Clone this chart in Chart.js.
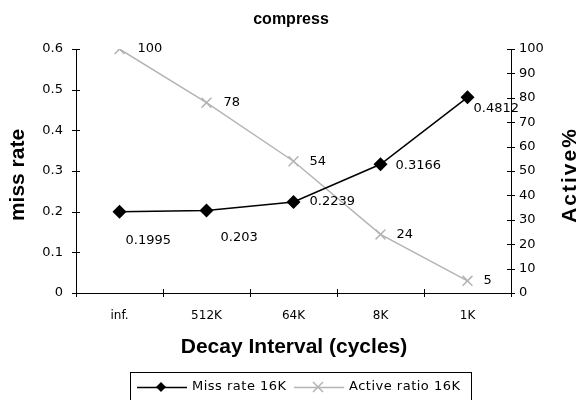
<!DOCTYPE html>
<html>
<head>
<meta charset="utf-8">
<script src="https://cdn.jsdelivr.net/npm/chart.js@4"></script>
<style>
  html, body { margin: 0; padding: 0; background: #fff; }
  #wrap { width: 581px; height: 400px; }
</style>
</head>
<body>
<div id="wrap"><canvas id="cvs" width="581" height="400"></canvas></div>
<script>
const categories = ['inf.', '512K', '64K', '8K', '1K'];
const missRate = [0.1995, 0.203, 0.2239, 0.3166, 0.4812];
const activeRatio = [100, 78, 54, 24, 5];
const missLabels = ['0.1995', '0.203', '0.2239', '0.3166', '0.4812'];
const activeLabels = ['100', '78', '54', '24', '5'];

// label offsets from the marker (dx, dy)
const missOffsets = [[6, 29], [14, 27], [16, 0], [15, 1], [6, 11]];
const activeOffsets = [[18, 0], [17, 0], [16, 0], [16, 0], [16, 0]];

const FONT = 'DejaVu Sans';
const BOLD = 'Liberation Sans';

const decor = {
  id: 'decor',
  afterDraw(chart) {
    const c = chart.ctx, a = chart.chartArea;
    const sy = chart.scales.y, sy2 = chart.scales.y2;
    c.save();
    c.strokeStyle = '#000';
    c.lineWidth = 1;
    // crossing tick marks
    c.beginPath();
    sy.ticks.forEach(t => {
      const y = Math.round(sy.getPixelForValue(t.value)) + 0.5;
      c.moveTo(a.left - 4, y); c.lineTo(a.left + 4, y);
    });
    sy2.ticks.forEach(t => {
      const y = Math.round(sy2.getPixelForValue(t.value)) + 0.5;
      c.moveTo(a.right - 4, y); c.lineTo(a.right + 4, y);
    });
    const step = (a.right - a.left) / categories.length;
    for (let i = 0; i <= categories.length; i++) {
      const x = Math.round(a.left + i * step) + 0.5;
      c.moveTo(x, a.bottom - 4); c.lineTo(x, a.bottom + 4);
    }
    c.stroke();

    // data labels
    c.fillStyle = '#000';
    c.font = '13px "' + FONT + '"';
    c.textAlign = 'left';
    c.textBaseline = 'middle';
    chart.getDatasetMeta(1).data.forEach((p, i) => {
      c.fillText(activeLabels[i], p.x + activeOffsets[i][0], p.y + activeOffsets[i][1]);
    });
    chart.getDatasetMeta(0).data.forEach((p, i) => {
      c.fillText(missLabels[i], p.x + missOffsets[i][0], p.y + missOffsets[i][1]);
    });

    // titles
    c.textAlign = 'center';
    c.font = 'bold 16px "' + BOLD + '"';
    c.fillText('compress', 291, 20);
    c.font = 'bold 21px "' + BOLD + '"';
    c.fillText('Decay Interval (cycles)', 294, 347);
    c.save();
    c.translate(18, 175);
    c.rotate(-Math.PI / 2);
    c.fillText('miss rate', 0, 0);
    c.restore();
    c.save();
    c.translate(570, 175);
    c.rotate(-Math.PI / 2);
    c.letterSpacing = '2px';
    c.fillText('Active%', 0, 0);
    c.restore();

    // legend
    c.strokeStyle = '#000';
    c.lineWidth = 1;
    c.strokeRect(130.5, 372.5, 341, 32);
    const ly = 387;
    const ds = chart.data.datasets;
    c.font = '13px "' + FONT + '"';
    c.letterSpacing = '0.5px';
    c.textAlign = 'left';
    [[137, ds[0]], [294, ds[1]]].forEach(([x0, d]) => {
      c.strokeStyle = d.borderColor;
      c.lineWidth = 1.5;
      c.beginPath(); c.moveTo(x0, ly + 0.5); c.lineTo(x0 + 50, ly + 0.5); c.stroke();
      const mx = x0 + 24;
      if (d.pointStyle === 'rectRot') {
        c.fillStyle = d.pointBackgroundColor;
        c.beginPath();
        c.moveTo(mx, ly - 5); c.lineTo(mx + 5, ly); c.lineTo(mx, ly + 5); c.lineTo(mx - 5, ly);
        c.closePath(); c.fill();
      } else {
        c.beginPath();
        c.moveTo(mx - 5, ly - 5); c.lineTo(mx + 5, ly + 5);
        c.moveTo(mx + 5, ly - 5); c.lineTo(mx - 5, ly + 5);
        c.stroke();
      }
      c.fillStyle = '#000';
      c.fillText(d.label, x0 + 55, ly);
    });
    c.restore();
  }
};

new Chart(document.getElementById('cvs'), {
  type: 'line',
  data: {
    labels: categories,
    datasets: [
      {
        label: 'Miss rate 16K',
        data: missRate,
        yAxisID: 'y',
        borderColor: '#000',
        backgroundColor: '#000',
        borderWidth: 1.5,
        pointStyle: 'rectRot',
        pointRadius: 7,
        pointBackgroundColor: '#000',
        pointBorderColor: '#000',
        pointBorderWidth: 0,
        tension: 0,
        order: 1
      },
      {
        label: 'Active ratio 16K',
        data: activeRatio,
        yAxisID: 'y2',
        borderColor: '#b4b4b4',
        backgroundColor: '#b4b4b4',
        borderWidth: 1.5,
        pointStyle: 'crossRot',
        pointRadius: 7,
        pointBorderColor: '#b4b4b4',
        pointBorderWidth: 1.5,
        tension: 0,
        order: 2
      }
    ]
  },
  options: {
    responsive: false,
    animation: false,
    layout: { padding: { top: 49, left: 0, right: 0, bottom: 0 } },
    plugins: { legend: { display: false }, title: { display: false }, tooltip: { enabled: false } },
    scales: {
      x: {
        type: 'category',
        offset: true,
        grid: { display: false, drawTicks: false },
        border: { display: true, color: '#000', width: 1 },
        ticks: { color: '#000', padding: 16, font: { family: FONT, size: 12 }, maxRotation: 0 },
        afterFit: s => { s.height = 107; }
      },
      y: {
        position: 'left',
        min: 0, max: 0.6,
        grid: { display: false, drawTicks: false },
        border: { display: true, color: '#000', width: 1 },
        ticks: {
          stepSize: 0.1, color: '#000', padding: 13,
          font: { family: FONT, size: 13 },
          callback: v => String(Math.round(v * 10) / 10)
        },
        afterFit: s => { s.width = 76; }
      },
      y2: {
        position: 'right',
        min: 0, max: 100,
        grid: { display: false, drawTicks: false },
        border: { display: true, color: '#000', width: 1 },
        ticks: { stepSize: 10, color: '#000', padding: 8, font: { family: FONT, size: 13 } },
        afterFit: s => { s.width = 70; }
      }
    }
  },
  plugins: [decor]
});
</script>
</body>
</html>
